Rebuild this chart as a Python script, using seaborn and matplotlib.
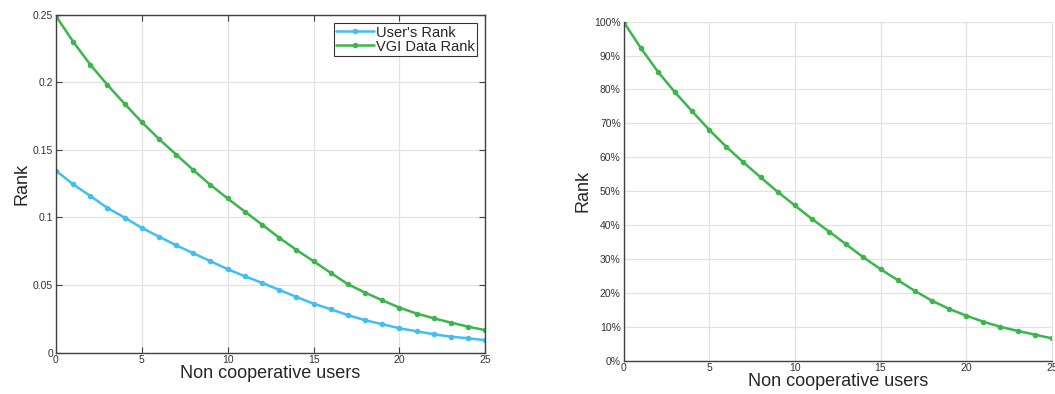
import numpy as np
import pandas as pd
import matplotlib
matplotlib.use("Agg")
import matplotlib.pyplot as plt
import seaborn as sns

users = list(range(26))
users_rank = [0.1346, 0.1245, 0.1159, 0.1070, 0.0999, 0.0922, 0.0858, 0.0794, 0.0735, 0.0676,
              0.0617, 0.0565, 0.0516, 0.0464, 0.0412, 0.0362, 0.0321, 0.0277, 0.0240, 0.0210,
              0.0180, 0.0158, 0.0136, 0.0118, 0.0106, 0.0092]
vgi_rank = [0.2490, 0.2300, 0.2130, 0.1980, 0.1840, 0.1705, 0.1580, 0.1465, 0.1350, 0.1240,
            0.1140, 0.1043, 0.0947, 0.0850, 0.0760, 0.0676, 0.0590, 0.0506, 0.0444, 0.0387,
            0.0333, 0.0289, 0.0254, 0.0222, 0.0192, 0.0166]
vgi_percent = [100.0, 92.3, 85.3, 79.2, 73.6, 68.1, 63.1, 58.5, 54.1, 49.8,
               45.8, 41.8, 38.1, 34.3, 30.5, 27.0, 23.8, 20.6, 17.7, 15.3,
               13.3, 11.5, 10.0, 8.8, 7.7, 6.6]
series_names = ["User's Rank", "VGI Data Rank"]

blue = "#44BDF0"
green = "#3CB54C"

sns.set_style("white")
plt.rcParams["font.family"] = ["Liberation Sans", "DejaVu Sans"]

df = pd.DataFrame({
    "users": users * 2,
    "rank": users_rank + vgi_rank,
    "series": [series_names[0]] * 26 + [series_names[1]] * 26,
})

fig = plt.figure(figsize=(10.55, 3.94), dpi=100)
ax1 = fig.add_axes([0.053, 0.105, 0.407, 0.858])
ax2 = fig.add_axes([0.591, 0.0845, 0.406, 0.8605])

# left panel
sns.lineplot(data=df, x="users", y="rank", hue="series", palette=[blue, green],
             marker="o", markersize=4, markeredgewidth=0, linewidth=1.8, ax=ax1)
ax1.set_xlim(0, 25)
ax1.set_ylim(0, 0.25)
ax1.set_xticks([0, 5, 10, 15, 20, 25])
ax1.set_yticks([0, 0.05, 0.1, 0.15, 0.2, 0.25])
ax1.set_yticklabels(["0", "0.05", "0.1", "0.15", "0.2", "0.25"])
ax1.set_xlabel("Non cooperative users", fontsize=13, labelpad=0)
ax1.set_ylabel("Rank", fontsize=13, labelpad=2)
ax1.grid(True, color="#e2e2e2", linewidth=0.9)
for s in ax1.spines.values():
    s.set_color("#404040")
    s.set_linewidth(1.0)
ax1.tick_params(axis="both", direction="in", length=4, width=0.8, color="#404040",
                labelcolor="#333333", labelsize=7.5, pad=2,
                top=True, right=True, bottom=True, left=True)
leg = ax1.legend(loc="upper right", fontsize=10.5, frameon=True, fancybox=False,
                 edgecolor="black", handlelength=2.6, handletextpad=0.1,
                 labelspacing=0.0, borderpad=0.15, borderaxespad=0.6)
leg.get_frame().set_linewidth(0.8)

# right panel
sns.lineplot(x=users, y=vgi_percent, color=green, marker="o", markersize=4,
             markeredgewidth=0, linewidth=1.8, ax=ax2)
ax2.set_xlim(0, 25)
ax2.set_ylim(0, 100)
ax2.set_xticks([0, 5, 10, 15, 20, 25])
ax2.set_yticks(range(0, 101, 10))
ax2.set_yticklabels([f"{v}%" for v in range(0, 101, 10)])
ax2.set_xlabel("Non cooperative users", fontsize=13, labelpad=0)
ax2.set_ylabel("Rank", fontsize=13, labelpad=2)
ax2.grid(True, color="#e2e2e2", linewidth=0.9)
ax2.spines["top"].set_visible(False)
ax2.spines["right"].set_color("#e2e2e2")
for side in ["left", "bottom"]:
    ax2.spines[side].set_color("#404040")
    ax2.spines[side].set_linewidth(1.0)
ax2.tick_params(axis="both", direction="in", length=4, width=0.8, color="#404040",
                labelcolor="#333333", labelsize=7.5, pad=2)

fig.savefig("out.png", dpi=100)
